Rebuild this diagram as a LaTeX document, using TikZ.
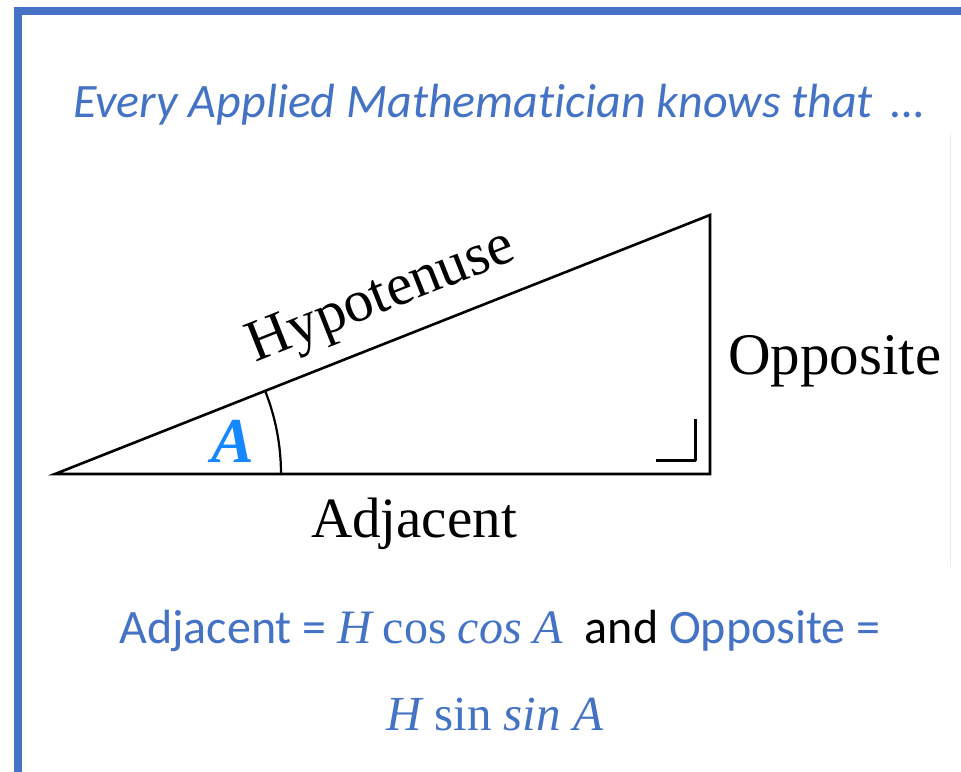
\documentclass[tikz,border=0pt]{standalone}
\usepackage{fontspec}
\setmainfont{Liberation Serif}
\newfontfamily\calibri[Ligatures={NoCommon}]{Carlito}
\usepackage{xcolor}
\usetikzlibrary{positioning, calc}
\definecolor{slideblue}{HTML}{4472C4}
\definecolor{angleblue}{HTML}{1587FF}

\begin{document}
\begin{tikzpicture}[x=1pt, y=-1pt, line join=miter]
    \tikzset{
        frame/.style={draw=slideblue, line width=8pt},
        side/.style={draw=black, line width=2.6pt},
        label/.style={inner sep=0pt, font=\fontsize{59}{62}\selectfont},
        slidetext/.style={inner sep=0pt, text=slideblue, font=\calibri\fontsize{48}{50}\selectfont}
    }
    \useasboundingbox (0,0) rectangle (961,771);

    % slide frame
    \path [frame] (18,780) -- (18,10.5) -- (970,10.5);
    \draw [black!8, line width=1pt] (950,133) -- (950,567);

    \node (Title) [slidetext, anchor=base west, font=\calibri\itshape\fontsize{48}{50}\selectfont] at (73,117) {Every Applied Mathematician knows that \,…};

    % the triangle
    \coordinate (Left) at (55,474);
    \coordinate (Corner) at (710,474);
    \coordinate (Top) at (710,215);
    \path [side] (Left) -- (Corner) -- (Top) -- cycle;
    \path [side, line width=3pt, line join=round] (656,460) -- (695,460) -- (695,419);
    \path [side, line width=2.2pt] ([shift={(0:226)}]Left) arc[start angle=0, end angle=-21.6, radius=226];

    \node (Angle) [inner sep=0pt, anchor=base, text=angleblue, font=\bfseries\itshape\fontsize{64}{66}\selectfont] at (233,462) {A};
    \node (Hyp) [label, anchor=base, rotate=21.6] at (387,311) {Hypotenuse};
    \node (Opp) [label, anchor=base west] at (728,374) {Opposite};
    \node (Adj) [label, anchor=base, font=\fontsize{57}{60}\selectfont] at (414,537) {Adjacent};

    % formulas
    \node (LineOne) [slidetext, anchor=base] at (500,643) {Adjacent = {\rmfamily\itshape H} {\rmfamily cos} {\rmfamily\itshape cos A}\ \ {\color{black}and} Opposite =};
    \node (LineTwo) [slidetext, anchor=base, font=\rmfamily\fontsize{49}{52}\selectfont] at (495,730) {{\itshape H} sin {\itshape sin A}};
\end{tikzpicture}
\end{document}
